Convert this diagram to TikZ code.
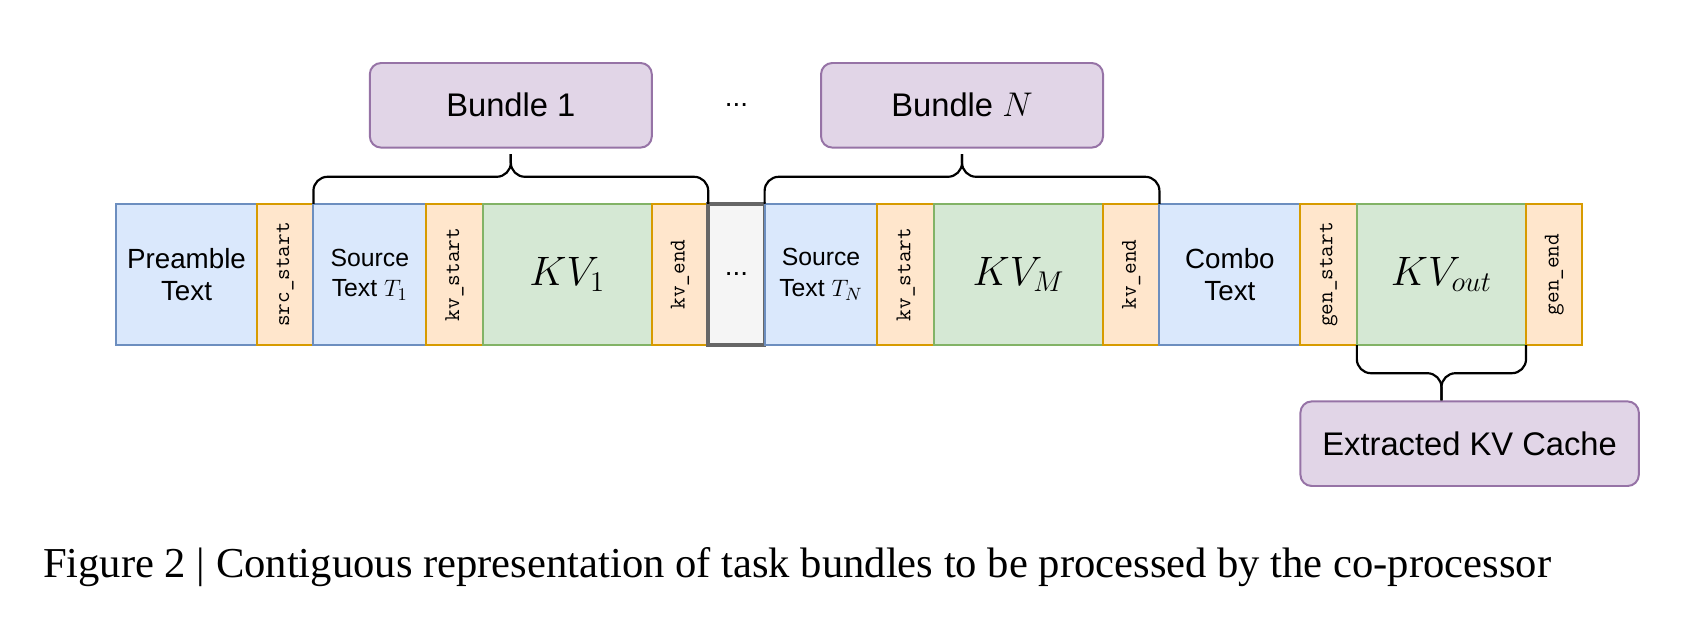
\documentclass[tikz,border=0pt]{standalone}
\usepackage{fontspec}
\usepackage{graphicx}
\setmainfont{Liberation Serif}
\setsansfont{Liberation Sans}
\usetikzlibrary{positioning, calc}
\definecolor{txtfill}{HTML}{DAE8FC}
\definecolor{txtline}{HTML}{6C8EBF}
\definecolor{tokfill}{HTML}{FFE6CC}
\definecolor{tokline}{HTML}{D79B00}
\definecolor{kvfill}{HTML}{D5E8D4}
\definecolor{kvline}{HTML}{82B366}
\definecolor{bunfill}{HTML}{E1D5E7}
\definecolor{bunline}{HTML}{9673A6}
\definecolor{gapfill}{HTML}{F5F5F5}
\definecolor{gapline}{HTML}{666666}
\newcommand{\tok}[1]{\rotatebox{90}{#1}}
\tikzset{
  cell/.style={draw, line width=1pt, minimum height=2.5cm, inner sep=0pt,
    outer sep=0pt, align=center},
  txtcell/.style={cell, fill=txtfill, draw=txtline, minimum width=2cm,
    font=\sffamily\fontsize{12.5}{15.5}\selectfont},
  widecell/.style={txtcell, minimum width=2.5cm,
    font=\sffamily\fontsize{14}{16.5}\selectfont},
  tokcell/.style={cell, fill=tokfill, draw=tokline, minimum width=1cm,
    font=\ttfamily\fontsize{11.4}{13}\selectfont},
  kvcell/.style={cell, fill=kvfill, draw=kvline, minimum width=3cm, font=\huge},
  gapcell/.style={cell, fill=gapfill, draw=gapline, line width=1.8pt,
    minimum width=1cm, font=\sffamily\fontsize{14}{16}\selectfont},
  bundle/.style={draw=bunline, fill=bunfill, line width=1pt, rounded corners=0.2cm,
    minimum width=5cm, minimum height=1.5cm, font=\sffamily\fontsize{16.5}{20}\selectfont},
  curly/.style={line width=1.1pt, rounded corners=0.25cm}
}

\begin{document}
\begin{tikzpicture}
  \useasboundingbox (-2.057,-7.624) rectangle (28.12,3.617);

  \node[widecell, anchor=north west] (pre) at (0,0) {Preamble\\Text};
  \node[tokcell, right=0pt of pre] (srcs) {\tok{src\_start}};
  \node[txtcell, right=0pt of srcs] (srcA) {Source\\Text $T_1$};
  \node[tokcell, right=0pt of srcA] (kvsA) {\tok{kv\_start}};
  \node[kvcell, right=0pt of kvsA] (kvA) {$KV_1$};
  \node[tokcell, right=0pt of kvA] (kveA) {\tok{kv\_end}};
  \node[gapcell, right=0pt of kveA] (gap) {...};
  \node[txtcell, right=0pt of gap] (srcB) {Source\\Text $T_N$};
  \node[tokcell, right=0pt of srcB] (kvsB) {\tok{kv\_start}};
  \node[kvcell, right=0pt of kvsB] (kvB) {$KV_M$};
  \node[tokcell, right=0pt of kvB] (kveB) {\tok{kv\_end}};
  \node[widecell, right=0pt of kveB] (combo) {Combo\\Text};
  \node[tokcell, right=0pt of combo] (gens) {\tok{gen\_start}};
  \node[kvcell, right=0pt of gens] (kvo) {$KV_{out}$};
  \node[tokcell, right=0pt of kvo] (gene) {\tok{gen\_end}};

  \node[bundle] (bunA) at (7,1.75) {Bundle 1};
  \node[font=\sffamily\fontsize{14}{16}\selectfont] (more) at (11,1.75) {...};
  \node[bundle] (bunB) at (15,1.75) {Bundle $N$};
  \node[bundle, minimum width=6cm] (ekv) at (24,-4.25) {Extracted KV Cache};

  \draw[curly] (srcA.north west) |- ($(bunA.south)+(0,-0.5)$) -- ($(bunA.south)+(0,-0.1)$);
  \draw[curly] (kveA.north east) |- ($(bunA.south)+(0,-0.5)$) -- ($(bunA.south)+(0,-0.1)$);
  \draw[curly] (srcB.north west) |- ($(bunB.south)+(0,-0.5)$) -- ($(bunB.south)+(0,-0.1)$);
  \draw[curly] (kveB.north east) |- ($(bunB.south)+(0,-0.5)$) -- ($(bunB.south)+(0,-0.1)$);
  \draw[curly] (kvo.south west) |- ($(kvo.south)+(0,-0.5)$) -- (kvo.south |- ekv.north);
  \draw[curly] (kvo.south east) |- ($(kvo.south)+(0,-0.5)$) -- (kvo.south |- ekv.north);

  \node[anchor=base west, font=\fontsize{21.5}{26}\selectfont] (cap) at (-1.418,-6.63)
    {Figure 2 | Contiguous representation of task bundles to be processed by the co-processor};
\end{tikzpicture}
\end{document}
